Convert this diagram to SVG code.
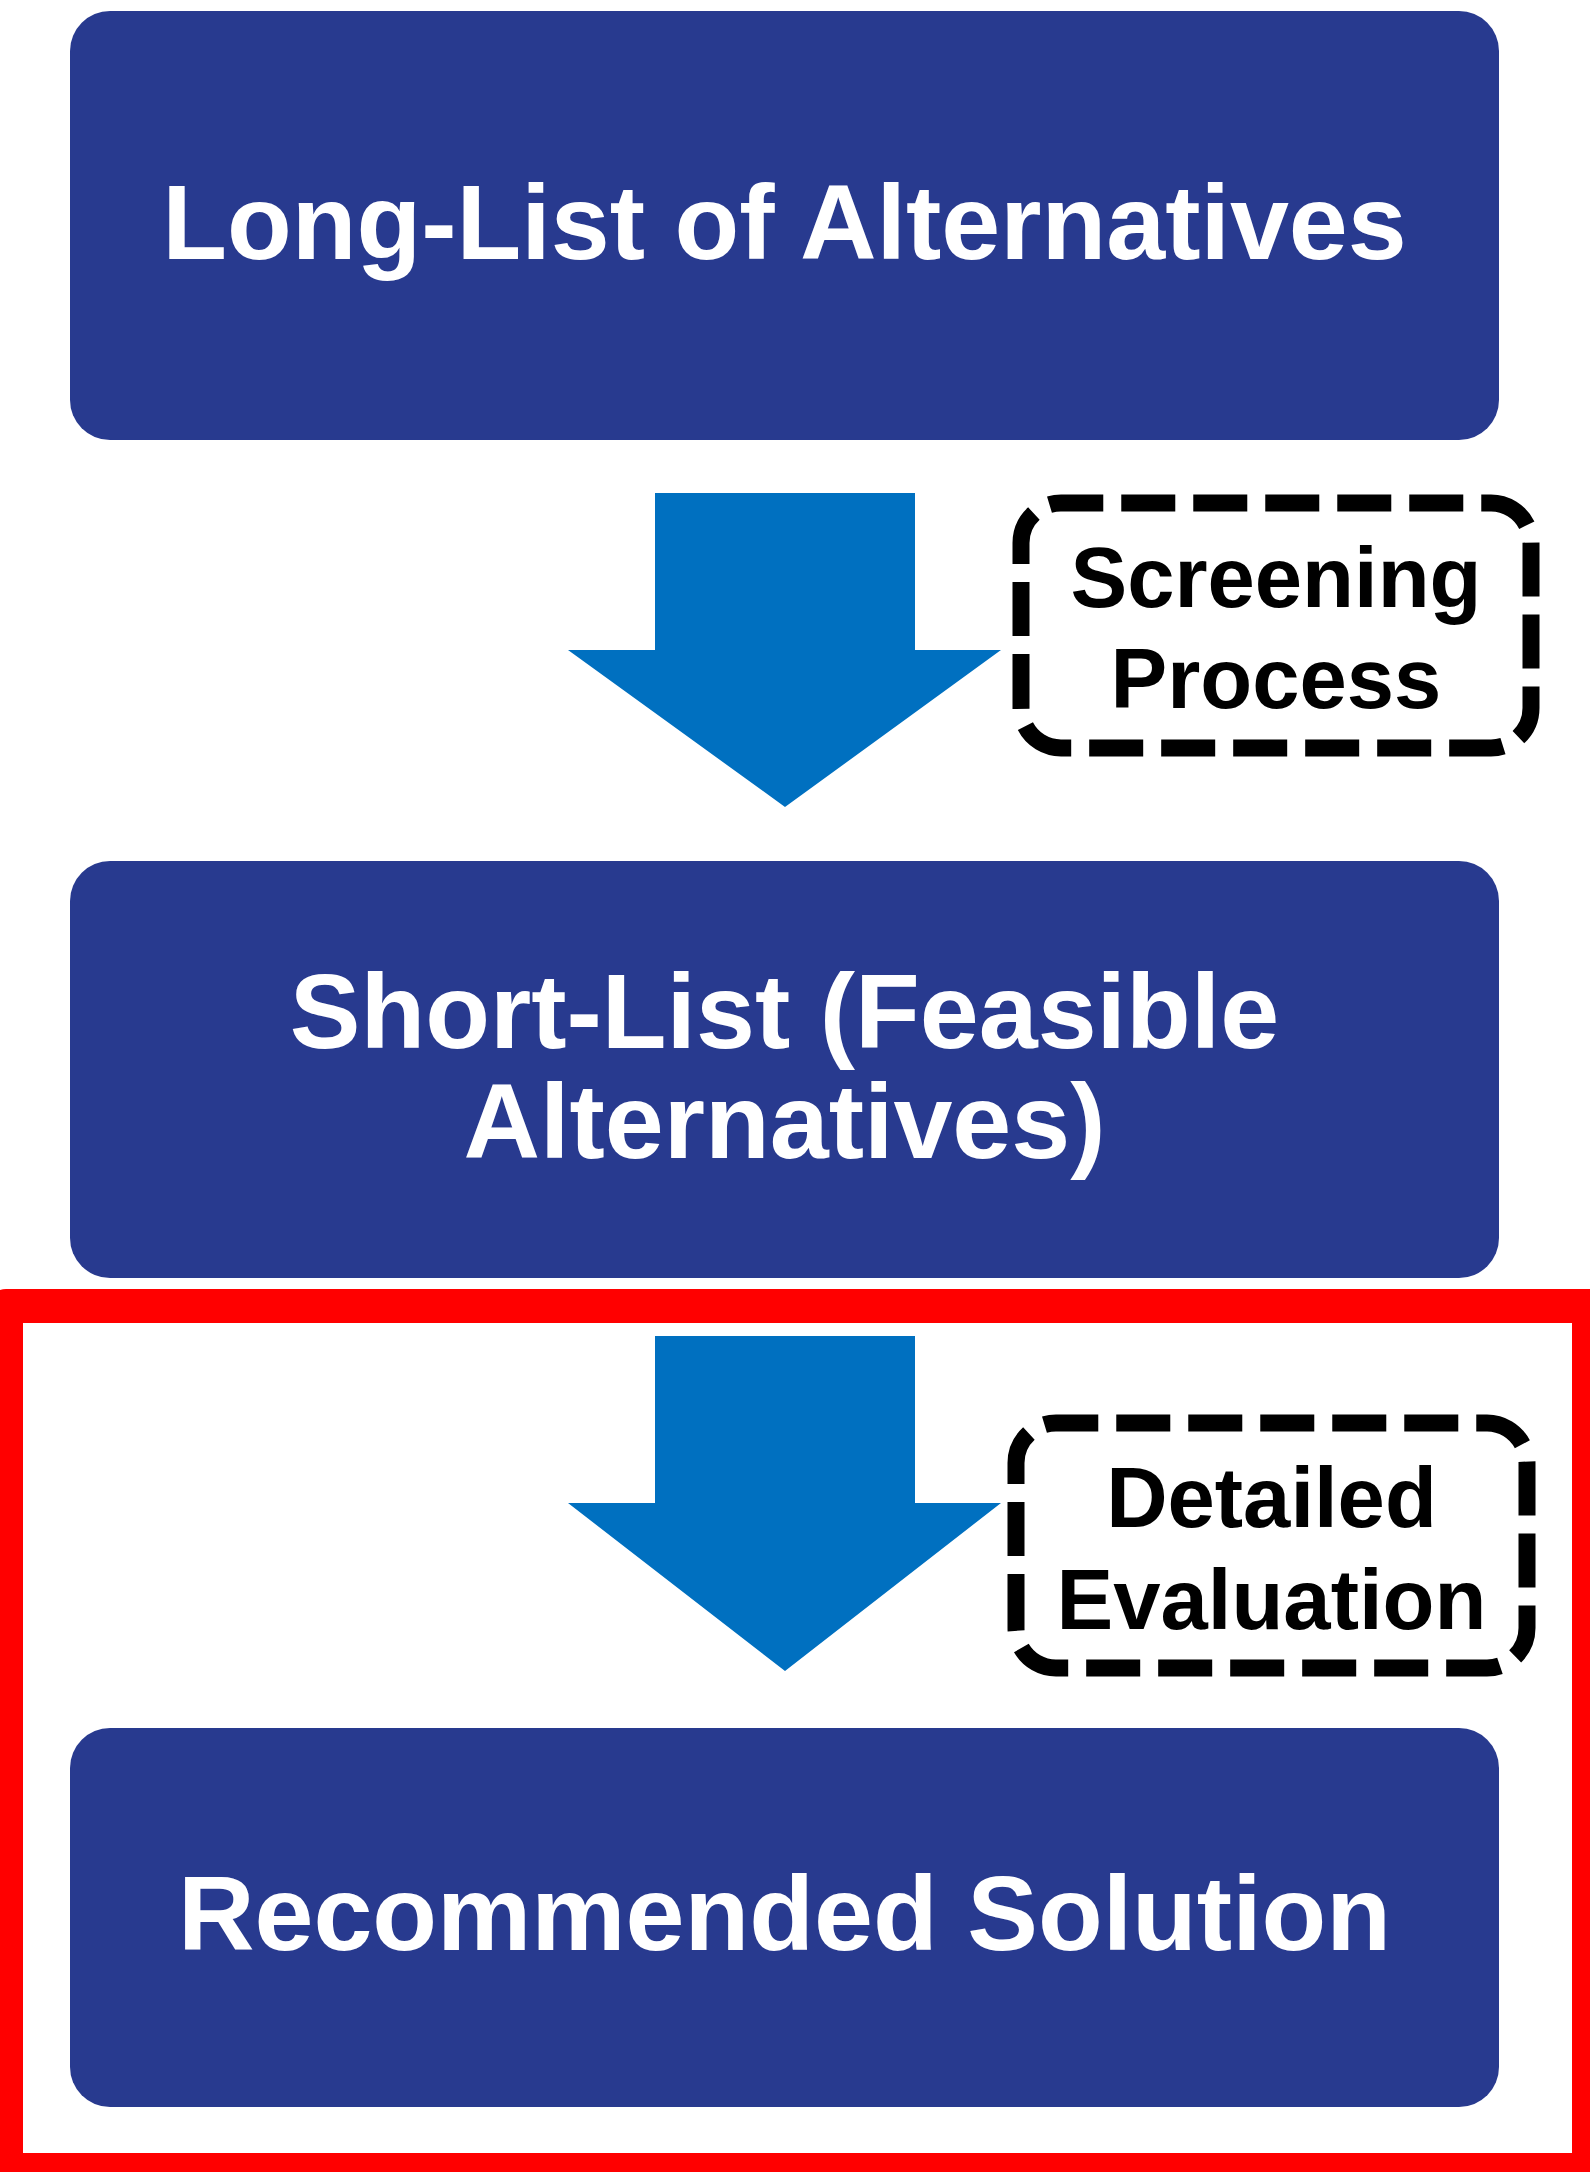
<svg xmlns="http://www.w3.org/2000/svg" width="1590" height="2172" viewBox="0 0 1590 2172">
  <style>
    .box { fill: #283a8f; }
    .boxtext { fill: #ffffff; font-family: "Liberation Sans", Arial, sans-serif; font-weight: bold; font-size: 106px; text-anchor: middle; }
    .note { fill: none; stroke: #000000; stroke-width: 17; stroke-dasharray: 54 18; }
    .notetext { fill: #000000; font-family: "Liberation Sans", Arial, sans-serif; font-weight: bold; font-size: 85px; text-anchor: middle; }
    .arrow { fill: #0070c0; }
    .frame { fill: none; stroke: #ff0000; stroke-width: 34; stroke-linejoin: round; }
  </style>
  <rect width="1590" height="2172" fill="#ffffff"/>

  <g id="highlight-frame">
    <rect class="frame" x="6" y="1306" width="1583" height="864"/>
  </g>

  <g id="connectors">
    <polygon class="arrow" points="655,493 915,493 915,650 1001,650 785,807 568,650 655,650"/>
    <polygon class="arrow" points="655,1336 915,1336 915,1503 1001,1503 785,1671 568,1503 655,1503"/>
  </g>

  <g id="node-long-list">
    <rect class="box" x="70" y="11" width="1429" height="429" rx="40" ry="40"/>
    <text class="boxtext" x="784.5" y="259">Long-List of Alternatives</text>
  </g>

  <g id="node-short-list">
    <rect class="box" x="70" y="861" width="1429" height="417" rx="40" ry="40"/>
    <text class="boxtext" x="784.5" y="1048">Short-List (Feasible</text>
    <text class="boxtext" x="784.5" y="1158">Alternatives)</text>
  </g>

  <g id="node-recommended">
    <rect class="box" x="70" y="1728" width="1429" height="379" rx="40" ry="40"/>
    <text class="boxtext" x="784.5" y="1950">Recommended Solution</text>
  </g>

  <g id="label-screening">
    <path class="note" d="M1021,708 L1021,543 A40,40 0 0 1 1061,503 L1491,503 A40,40 0 0 1 1531,543 L1531,708 A40,40 0 0 1 1491,748 L1061,748 A40,40 0 0 1 1021,708 Z"/>
    <text class="notetext" x="1276" y="607">Screening</text>
    <text class="notetext" x="1276" y="708">Process</text>
  </g>

  <g id="label-detailed">
    <path class="note" d="M1016,1628 L1016,1463 A40,40 0 0 1 1056,1423 L1487,1423 A40,40 0 0 1 1527,1463 L1527,1628 A40,40 0 0 1 1487,1668 L1056,1668 A40,40 0 0 1 1016,1628 Z"/>
    <text class="notetext" x="1271.5" y="1527">Detailed</text>
    <text class="notetext" x="1271.5" y="1629">Evaluation</text>
  </g>
</svg>
